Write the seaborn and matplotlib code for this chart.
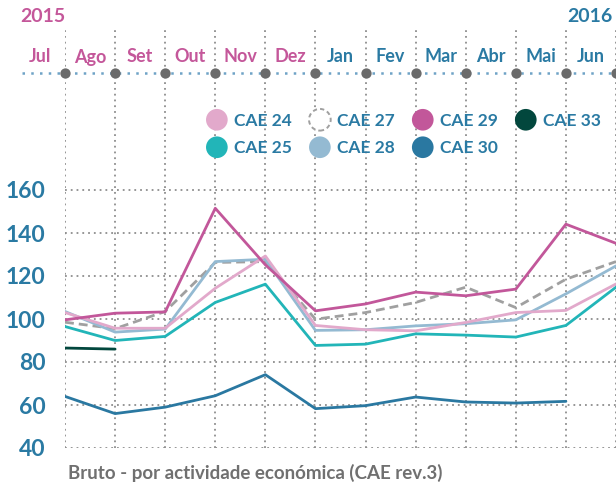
import matplotlib

matplotlib.use("Agg")

import matplotlib.pyplot as plt
import matplotlib.patches as mpatches
import matplotlib.transforms as mtransforms
from matplotlib.legend_handler import HandlerPatch
import numpy as np
import pandas as pd
import seaborn as sns

# ── Data ──────────────────────────────────────────────────────────────────────
MONTHS_2015 = ["Jul", "Ago", "Set", "Out", "Nov", "Dez"]
MONTHS_2016 = ["Jan", "Fev", "Mar", "Abr", "Mai", "Jun"]
YEARS = ["2015", "2016"]
Y_TICKS = [40, 60, 80, 100, 120, 140, 160]

cae24 = [103.0, 95.7, 95.7, 114.3, 129.3, 97.0, 95.0, 94.5, 98.4, 103.0, 104.0, 116.3]
cae25 = [96.5, 90.0, 91.9, 107.7, 116.2, 87.7, 88.3, 93.1, 92.5, 91.6, 97.0, 114.8]
cae27 = [98.5, 95.5, 103.5, 126.3, 126.7, 99.9, 103.0, 107.7, 114.8, 105.3, 118.5, 126.7]
cae28 = [103.5, 93.9, 95.3, 126.7, 127.8, 94.7, 95.0, 96.8, 97.8, 99.6, 111.7, 124.7]
cae29 = [99.6, 102.7, 103.3, 151.5, 125.2, 103.8, 107.0, 112.5, 110.8, 113.9, 144.1, 135.2]
cae30 = [64.0, 56.0, 59.0, 64.3, 74.1, 58.3, 59.7, 63.7, 61.4, 60.9, 61.7, np.nan]
cae33 = [86.5, 86.0] + [np.nan] * 10

# ── Style ─────────────────────────────────────────────────────────────────────
PINK = "#c4579a"
BLUE = "#2a7aa3"
GRID = "#8e8e8e"
SERIES = [
    # label, values, colour, dashed
    ("CAE 30", cae30, "#2a78a1", False),
    ("CAE 33", cae33, "#02473d", False),
    ("CAE 25", cae25, "#22b5b8", False),
    ("CAE 27", cae27, "#a0a0a0", True),
    ("CAE 28", cae28, "#94bad2", False),
    ("CAE 24", cae24, "#e2a9cb", False),
    ("CAE 29", cae29, "#c2579a", False),
]
LEGEND_ORDER = ["CAE 24", "CAE 25", "CAE 27", "CAE 28", "CAE 29", "CAE 30", "CAE 33"]

sns.set_theme(style="white")
plt.rcParams["font.family"] = ["Lato", "DejaVu Sans"]


class HandlerCircle(HandlerPatch):
    def create_artists(self, legend, orig_handle, xdescent, ydescent,
                       width, height, fontsize, trans):
        center = (0.5 * width - xdescent, 0.5 * height - ydescent)
        p = mpatches.Circle(center, radius=7.8)
        self.update_prop(p, orig_handle, legend)
        p.set_transform(trans)
        return [p]


W, H = 616, 483
fig = plt.figure(figsize=(W / 100, H / 100), dpi=100)
ax = fig.add_axes([65 / W, 35 / H, 1 - 65 / W, (448 - 28) / H])

n = len(MONTHS_2015) + len(MONTHS_2016)
x = np.arange(n)
for label, values, color, dashed in SERIES:
    df = pd.DataFrame({"x": x, "y": values}).dropna()
    sns.lineplot(data=df, x="x", y="y", ax=ax, color=color, linewidth=2.0,
                 linestyle=(0, (3.2, 1.8)) if dashed else "-", zorder=3)

ax.set_xlim(0, n - 1)
px_per_unit = (448 - 190) / 120
ax.set_ylim(40, 160 + (190 - 28) / px_per_unit)
ax.set_xticks(x)
ax.set_xticklabels([])
ax.set_yticks(Y_TICKS)
ax.set_yticklabels([str(v) for v in Y_TICKS], fontsize=16.5, fontweight="bold", color=BLUE)
ax.tick_params(axis="both", length=0)
ax.tick_params(axis="y", pad=14)
ax.set_xlabel("")
ax.set_ylabel("")
ax.grid(True, color=GRID, linestyle=(0, (1, 2.2)), linewidth=1.3)
for s in ax.spines.values():
    s.set_visible(False)

# ── Month timeline on top ─────────────────────────────────────────────────────
blend = mtransforms.blended_transform_factory(ax.transData, ax.transAxes)
tl_y = (448 - 73) / (448 - 28)
lab_y = (448 - 57) / (448 - 28)
ax.plot([-0.86, n - 1], [tl_y, tl_y], transform=blend, color="#6fa3c6",
        linestyle=(0, (1, 2.5)), linewidth=1.8, clip_on=False, zorder=4)
ax.scatter(x, [tl_y] * n, transform=blend, s=55, color="#6b6b6b",
           clip_on=False, zorder=5, linewidths=0)
for i, m in enumerate(MONTHS_2015 + MONTHS_2016):
    ax.text(i - 0.5, lab_y, m, transform=blend, ha="center", va="center",
            fontsize=13, fontweight="bold",
            color=PINK if m in MONTHS_2015 else BLUE)

fig.text(20 / W, 1 - 16 / H, YEARS[0], ha="left", va="center",
         fontsize=14, fontweight="bold", color=PINK)
fig.text(613 / W, 1 - 16 / H, YEARS[1], ha="right", va="center",
         fontsize=14, fontweight="bold", color=BLUE)

# ── Legend ────────────────────────────────────────────────────────────────────
style = {lab: (col, dashed) for lab, _, col, dashed in SERIES}
handles = []
for lab in LEGEND_ORDER:
    col, dashed = style[lab]
    if dashed:
        h = mpatches.Circle((0, 0), facecolor="white", edgecolor=col,
                            linestyle=(0, (2.2, 1.6)), linewidth=1.4, label=lab)
    else:
        h = mpatches.Circle((0, 0), facecolor=col, edgecolor="none", label=lab)
    handles.append(h)
leg = ax.legend(handles=handles, ncol=4, frameon=False, loc="upper left",
                bbox_to_anchor=(206 / W, 1 - 112 / H), bbox_transform=fig.transFigure,
                borderpad=0, borderaxespad=0, handlelength=1.25, handleheight=1.0,
                handletextpad=0.35, columnspacing=1.0, labelspacing=0.62,
                prop={"size": 12.5, "weight": "bold"}, labelcolor=BLUE,
                handler_map={mpatches.Circle: HandlerCircle()})

fig.text(68 / W, 1 - 473 / H, "Bruto - por actividade económica (CAE rev.3)",
         ha="left", va="center", fontsize=13.5, fontweight="bold", color="#707070")

fig.savefig("out.png", dpi=100)
